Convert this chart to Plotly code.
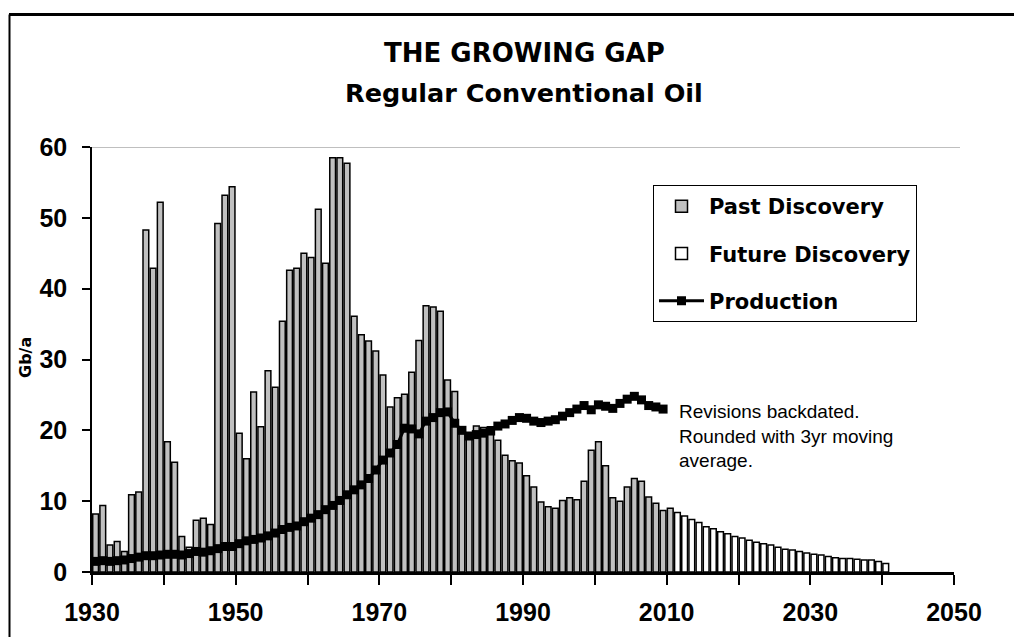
import plotly.graph_objects as go

# ---------------- data ----------------
past_years = list(range(1930, 2011))
past_discovery = [
    8.2, 9.4, 3.8, 4.3, 2.9, 10.9, 11.3, 48.3, 42.9, 52.2,
    18.4, 15.5, 5.0, 3.5, 7.3, 7.6, 6.7, 49.2, 53.2, 54.4,
    19.6, 16.0, 25.4, 20.5, 28.4, 26.1, 35.4, 42.6, 42.9, 45.0,
    44.4, 51.2, 43.6, 58.5, 58.5, 57.7, 36.1, 33.5, 32.6, 31.2,
    27.8, 23.3, 24.6, 25.1, 28.2, 32.7, 37.6, 37.4, 36.8, 27.1,
    25.5, 20.0, 19.0, 20.6, 20.4, 20.5, 18.6, 16.5, 15.7, 15.4,
    13.6, 12.0, 9.9, 9.2, 9.0, 10.1, 10.5, 10.2, 12.8, 17.2,
    18.4, 15.0, 10.5, 10.0, 12.0, 13.2, 12.8, 10.6, 9.7, 8.7,
    9.0,
]
future_years = list(range(2011, 2041))
future_discovery = [
    8.4, 7.9, 7.4, 7.0, 6.4, 6.1, 5.7, 5.4, 5.0, 4.8,
    4.5, 4.2, 4.0, 3.8, 3.5, 3.2, 3.1, 2.9, 2.7, 2.5,
    2.4, 2.2, 2.0, 1.9, 1.9, 1.8, 1.7, 1.7, 1.5, 1.2,
]
prod_years = list(range(1930, 2010))
production = [
    1.5, 1.6, 1.5, 1.6, 1.7, 1.9, 2.1, 2.3, 2.3, 2.4,
    2.5, 2.5, 2.4, 2.6, 2.9, 2.8, 3.0, 3.3, 3.6, 3.6,
    4.0, 4.4, 4.6, 4.8, 5.1, 5.5, 6.0, 6.3, 6.5, 7.1,
    7.6, 8.1, 8.8, 9.4, 10.1, 10.9, 11.6, 12.3, 13.2, 14.4,
    15.8, 16.8, 18.0, 20.3, 20.2, 19.5, 21.3, 21.8, 22.5, 22.6,
    21.0, 20.0, 19.2, 19.4, 19.6, 19.9, 20.6, 20.9, 21.4, 21.8,
    21.7, 21.3, 21.1, 21.3, 21.5, 22.0, 22.5, 23.0, 23.5, 22.9,
    23.6, 23.4, 23.1, 23.8, 24.4, 24.8, 24.3, 23.5, 23.3, 23.0,
]
x_tick_vals = list(range(1930, 2051, 10))
x_tick_text = ["1930", "", "1950", "", "1970", "", "1990", "", "2010", "", "2030", "", "2050"]
y_tick_vals = [0, 10, 20, 30, 40, 50, 60]

# ---------------- layout helpers (pixel geometry) ----------------
OFF = 8                      # default page body margin
W, H = 1022 - OFF, 637 - OFF
L, R, T, B = 92 - OFF, 954 - OFF, 147 - OFF, 572 - OFF


def px_x(p):
    return (p - OFF - L) / (R - L)


def px_y(p):
    return (B - (p - OFF)) / (B - T)


fig = go.Figure()
fig.add_trace(go.Bar(
    x=past_years, y=past_discovery, name="Past Discovery",
    width=0.8, offset=0.1,
    marker=dict(color="#c0c0c0", line=dict(color="black", width=1.5)),
    legendgroup="a",
))
fig.add_trace(go.Bar(
    x=future_years, y=future_discovery, name="Future Discovery",
    width=0.8, offset=0.1,
    marker=dict(color="white", line=dict(color="black", width=1.5)),
    legendgroup="b",
))
fig.add_trace(go.Scatter(
    x=[yr + 0.5 for yr in prod_years], y=production, name="Production",
    mode="lines+markers",
    line=dict(color="black", width=3),
    marker=dict(symbol="square", size=9, color="black"),
    legendgroup="c",
))

fig.update_layout(
    width=W, height=H,
    margin=dict(l=L, r=W - R, t=T, b=H - B, pad=0),
    paper_bgcolor="white", plot_bgcolor="white",
    barmode="overlay",
    showlegend=True,
    legend=dict(
        x=px_x(653), y=px_y(185), xanchor="left", yanchor="top",
        bgcolor="white", bordercolor="black", borderwidth=1,
        font=dict(family="DejaVu Sans", size=21, color="black", weight="bold"),
        itemwidth=45, tracegroupgap=17,
    ),
    xaxis=dict(
        range=[1930, 2050], tickmode="array", tickvals=x_tick_vals, ticktext=x_tick_text,
        ticks="outside", ticklen=10, tickwidth=2, tickcolor="black",
        showline=True, linecolor="black", linewidth=3, showgrid=False, zeroline=False,
        tickfont=dict(family="Liberation Sans", size=25, color="black", weight="bold"),
        ticklabelstandoff=6, automargin=False,
    ),
    yaxis=dict(
        range=[0, 60], tickmode="array", tickvals=y_tick_vals,
        ticks="outside", ticklen=8, tickwidth=2, tickcolor="black",
        showline=True, linecolor="black", linewidth=1.5, showgrid=False, zeroline=False,
        tickfont=dict(family="Liberation Sans", size=25, color="black", weight="bold"),
        ticklabelstandoff=10, automargin=False,
    ),
)

# top border line of the plot area at 60
fig.add_shape(type="line", xref="paper", yref="y", x0=0, x1=px_x(960), y0=60, y1=60,
              line=dict(color="#808080", width=1))
# outer frame (top and left)
fig.add_shape(type="line", xref="paper", yref="paper", x0=px_x(9), x1=px_x(1022),
              y0=px_y(14.5), y1=px_y(14.5), line=dict(color="black", width=3))
fig.add_shape(type="line", xref="paper", yref="paper", x0=px_x(9.5), x1=px_x(9.5),
              y0=px_y(14.5), y1=px_y(637), line=dict(color="black", width=2))

# titles
fig.add_annotation(text="THE GROWING GAP", xref="paper", yref="paper",
                   x=px_x(524), y=px_y(53), xanchor="center", yanchor="middle", showarrow=False,
                   font=dict(family="DejaVu Sans", size=26, color="black", weight="bold"))
fig.add_annotation(text="Regular Conventional Oil", xref="paper", yref="paper",
                   x=px_x(524), y=px_y(93), xanchor="center", yanchor="middle", showarrow=False,
                   font=dict(family="DejaVu Sans", size=25.5, color="black", weight="bold"))
# y-axis title
fig.add_annotation(text="Gb/a", xref="paper", yref="paper", textangle=-90,
                   x=px_x(25), y=px_y(358), xanchor="center", yanchor="middle", showarrow=False,
                   font=dict(family="DejaVu Sans", size=16, color="black", weight="bold"))
# note
fig.add_annotation(text="Revisions backdated.<br>Rounded with 3yr moving<br>average.",
                   xref="paper", yref="paper", x=px_x(677), y=px_y(399),
                   xanchor="left", yanchor="top", align="left", showarrow=False,
                   font=dict(family="Liberation Sans", size=19, color="black"))

fig.write_html("out.html")
